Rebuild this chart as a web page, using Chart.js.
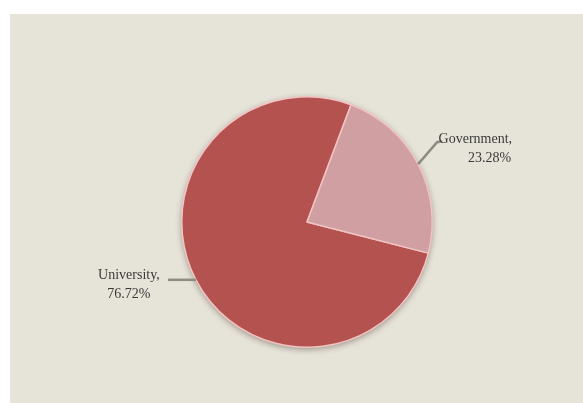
<!DOCTYPE html>
<html>
<head>
    <title>University vs Government</title>
    <script src="https://cdn.jsdelivr.net/npm/chart.js"></script>
    <style>
        body { margin: 0; background: #ffffff; }
        #bg { position: absolute; left: 10px; top: 14px; width: 573px; height: 389px; background: #e6e3d8; }
        #pieChart { position: absolute; left: 0; top: 0; }
    </style>
</head>
<body>
    <div id="bg"></div>
    <canvas id="pieChart" width="583" height="403"></canvas>

    <script>
        // Data
        const categories = ['University', 'Government'];
        const shares = [76.72, 23.28];
        const sliceColors = ['#b4524f', '#cf9fa2'];

        // shadow circle drawn under the slices
        const pieShadow = {
            id: 'pieShadow',
            beforeDatasetsDraw(chart) {
                const arc = chart.getDatasetMeta(0).data[0];
                if (!arc) return;
                const ctx = chart.ctx;
                ctx.save();
                ctx.shadowColor = 'rgba(60, 40, 30, 0.45)';
                ctx.shadowBlur = 6;
                ctx.shadowOffsetY = 2;
                ctx.fillStyle = '#b4524f';
                ctx.beginPath();
                ctx.arc(arc.x, arc.y, arc.outerRadius, 0, Math.PI * 2);
                ctx.fill();
                ctx.restore();
            }
        };

        // labels with leader lines
        const leaderLabels = {
            id: 'leaderLabels',
            afterDatasetsDraw(chart) {
                const ctx = chart.ctx;
                const arcs = chart.getDatasetMeta(0).data;
                ctx.save();
                ctx.font = '14px "Liberation Serif", "DejaVu Serif", serif';
                ctx.fillStyle = '#3a3a3a';
                ctx.strokeStyle = '#8c8c82';
                ctx.lineWidth = 2.5;
                ctx.textBaseline = 'middle';
                arcs.forEach((arc, i) => {
                    const mid = (arc.startAngle + arc.endAngle) / 2;
                    const ex = arc.x + Math.cos(mid) * arc.outerRadius;
                    const ey = arc.y + Math.sin(mid) * arc.outerRadius;
                    const pct = shares[i].toFixed(2) + '%';
                    ctx.beginPath();
                    if (Math.cos(mid) >= 0) {
                        ctx.moveTo(ex, ey);
                        ctx.lineTo(ex + 19, ey - 22);
                        ctx.lineTo(ex + 24, ey - 23);
                        ctx.stroke();
                        ctx.textAlign = 'right';
                        ctx.fillText(categories[i] + ',', ex + 94, ey - 25);
                        ctx.fillText(pct, ex + 93, ey - 6);
                    } else {
                        ctx.moveTo(ex, ey);
                        ctx.lineTo(ex - 28, ey);
                        ctx.stroke();
                        ctx.textAlign = 'center';
                        ctx.fillText(categories[i] + ',', ex - 67, ey - 5);
                        ctx.fillText(pct, ex - 67, ey + 14);
                    }
                });
                ctx.restore();
            }
        };

        const ctx = document.getElementById('pieChart').getContext('2d');
        const chart = new Chart(ctx, {
            type: 'pie',
            data: {
                labels: categories,
                datasets: [{
                    data: shares,
                    backgroundColor: sliceColors,
                    borderColor: '#f2c4c4',
                    borderWidth: 1.5
                }]
            },
            options: {
                responsive: false,
                animation: false,
                rotation: 104.4,
                layout: {
                    padding: { top: 96, bottom: 55, left: 181, right: 150 }
                },
                plugins: {
                    legend: { display: false },
                    tooltip: { enabled: false }
                }
            },
            plugins: [pieShadow, leaderLabels]
        });
    </script>
</body>
</html>
